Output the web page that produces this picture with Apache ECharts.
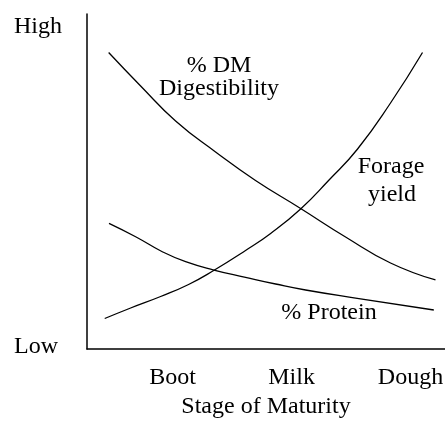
<!DOCTYPE html>
<html>
<head>
<meta charset="utf-8">
<script src="https://cdn.jsdelivr.net/npm/echarts@6/dist/echarts.min.js"></script>
<style>html,body{margin:0;padding:0;background:#fff}#c{width:445px;height:421px}</style>
</head>
<body>
<div id="c"></div>
<script>
var categories = ['Boot', 'Milk', 'Dough'];
var categoryPositions = [1, 2, 3];
var yTickLabels = ['Low', 'High'];
var yTickPositions = [0.6, 96.1];

var dmStage = [0.462, 0.731, 1.025, 1.361, 1.697, 2.076, 2.454, 2.832, 3.210];
var dmValue = [88.51, 78.51, 68.06, 58.81, 50.30, 41.94, 33.43, 25.67, 20.60];

var forageStage = [0.429, 0.647, 0.899, 1.134, 1.345, 1.613, 1.824, 2.076, 2.311, 2.555, 2.832, 3.101];
var forageValue = [9.10, 12.24, 15.67, 19.25, 23.43, 29.40, 34.48, 41.79, 50.30, 59.70, 73.43, 88.51];

var proteinStage = [0.465, 0.689, 0.913, 1.109, 1.347, 1.613, 1.866, 2.118, 2.552, 3.196];
var proteinValue = [37.52, 33.52, 29.04, 26.06, 23.58, 21.40, 19.40, 17.61, 15.13, 11.64];

function pairs(xs, ys) { return xs.map(function (x, i) { return [x, ys[i]]; }); }

var font = 'Liberation Serif';
var fs = 24;
var chart = echarts.init(document.getElementById('c'), null, { renderer: 'canvas' });
var lineStyle = { color: '#000', width: 1.3 };
function series(name, xs, ys) {
  return { name: name, type: 'line', data: pairs(xs, ys), smooth: 0.5, showSymbol: false, lineStyle: lineStyle, silent: true };
}
function label(text, x, y) {
  return { type: 'text', x: x, y: y, style: { text: text, font: fs + 'px ' + font, fill: '#000', align: 'center', verticalAlign: 'middle' } };
}
chart.setOption({
  animation: false,
  grid: { left: 87, right: 0, top: 14, bottom: 72, containLabel: false, outerBoundsMode: 'none' },
  xAxis: {
    type: 'value', min: 0.28, max: 3.29,
    axisLine: { show: true, lineStyle: { color: '#000', width: 1.5 } },
    axisTick: { show: false }, splitLine: { show: false },
    axisLabel: {
      customValues: categoryPositions, margin: 17,
      color: '#000', fontFamily: font, fontSize: fs,
      formatter: function (v) { return categories[categoryPositions.indexOf(Math.round(v))] || ''; }
    },
    name: 'Stage of Maturity', nameLocation: 'middle', nameGap: 39,
    nameTextStyle: { color: '#000', fontFamily: font, fontSize: fs }
  },
  yAxis: {
    type: 'value', min: 0, max: 100,
    axisLine: { show: true, lineStyle: { color: '#000', width: 1.5 } },
    axisTick: { show: false }, splitLine: { show: false },
    axisLabel: {
      customValues: yTickPositions, margin: 73, align: 'left',
      color: '#000', fontFamily: font, fontSize: fs,
      formatter: function (v) { var i = yTickPositions.indexOf(v); return i >= 0 ? yTickLabels[i] : ''; }
    }
  },
  graphic: [
    label('% DM', 219, 66),
    label('Digestibility', 219, 89),
    label('Forage', 391, 167),
    label('yield', 392, 195),
    label('% Protein', 329, 313)
  ],
  series: [
    series('% DM Digestibility', dmStage, dmValue),
    series('Forage yield', forageStage, forageValue),
    series('% Protein', proteinStage, proteinValue)
  ]
});
</script>
</body>
</html>
